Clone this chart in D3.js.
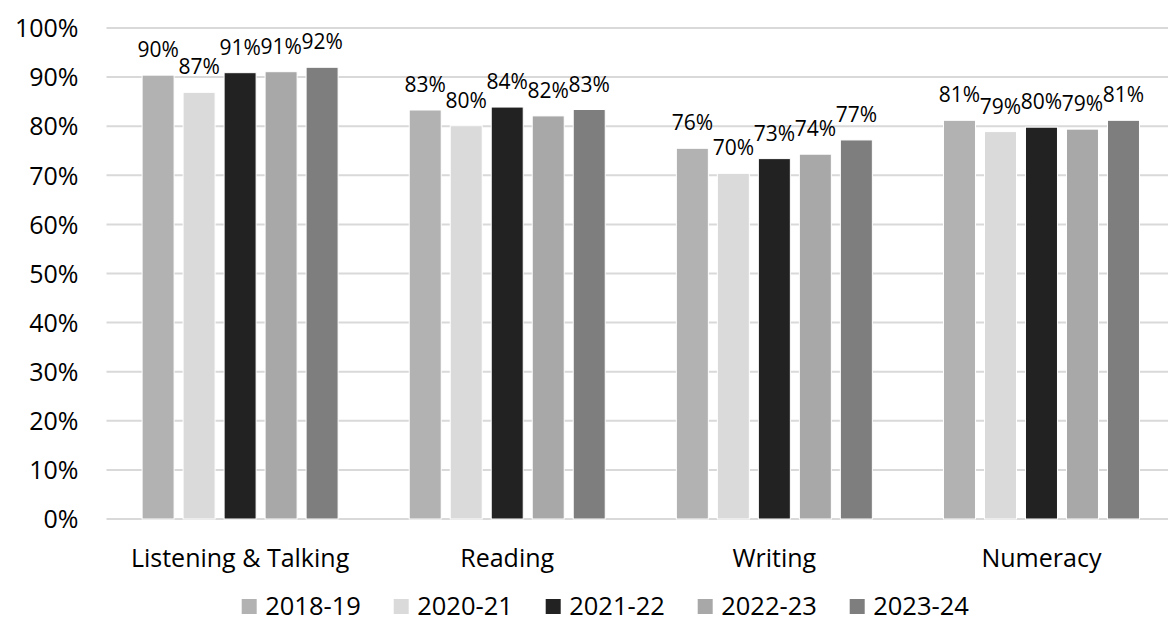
<!DOCTYPE html>
<html><head><meta charset="utf-8">
<script src="https://cdn.jsdelivr.net/npm/d3@7"></script>
<style>html,body{margin:0;padding:0;background:#fff;}svg{display:block;font-family:"Open Sans",sans-serif;}</style>
</head><body>
<svg id="chart" width="1168" height="626"></svg>
<script>
const categories = ["Listening & Talking", "Reading", "Writing", "Numeracy"];
const seriesNames = ["2018-19", "2020-21", "2021-22", "2022-23", "2023-24"];
const s2018_19 = [0.904, 0.833, 0.755, 0.812];
const s2020_21 = [0.869, 0.801, 0.704, 0.789];
const s2021_22 = [0.909, 0.839, 0.734, 0.798];
const s2022_23 = [0.911, 0.821, 0.743, 0.794];
const s2023_24 = [0.920, 0.834, 0.772, 0.812];
const seriesValues = [s2018_19, s2020_21, s2021_22, s2022_23, s2023_24];
const seriesColors = ["#b2b2b2", "#dadada", "#222222", "#a8a8a8", "#7e7e7e"];
const yTicks = [0, 0.1, 0.2, 0.3, 0.4, 0.5, 0.6, 0.7, 0.8, 0.9, 1.0];

const svg = d3.select("#chart");
const plotLeft = 106.5, plotRight = 1175, plotTop = 28, plotBottom = 519;

const y = d3.scaleLinear().domain([0, 1]).range([plotBottom, plotTop]);
const x0 = d3.scaleBand().domain(categories).range([plotLeft, plotRight]).padding(0);
const x1 = d3.scaleBand().domain(seriesNames).range([35.6, 231.6]).paddingInner(9/41).paddingOuter(0);

// gridlines
svg.append("g").selectAll("line").data(yTicks).join("line")
  .attr("x1", plotLeft).attr("x2", 1168)
  .attr("y1", d => y(d)).attr("y2", d => y(d))
  .attr("stroke", "#d9d9d9").attr("stroke-width", 2);

// y axis labels
const yAxis = d3.axisLeft(y).tickValues(yTicks).tickFormat(d3.format(".0%")).tickSize(0).tickPadding(0);
const yg = svg.append("g").attr("transform", `translate(${78.5},0)`).call(yAxis);
yg.select(".domain").remove();
yg.selectAll("text").attr("font-size", 25).attr("fill", "#000").attr("font-family", "Open Sans").attr("dy", "0.35em");

// bars
const groups = svg.append("g").selectAll("g").data(categories).join("g")
  .attr("transform", d => `translate(${x0(d)},0)`);
groups.each(function(cat, ci) {
  const g = d3.select(this);
  const data = seriesNames.map((s, si) => ({s, si, v: seriesValues[si][ci]}));
  g.selectAll("rect").data(data).join("rect")
    .attr("x", d => x1(d.s)).attr("width", x1.bandwidth())
    .attr("y", d => y(d.v)).attr("height", d => y(0) - y(d.v))
    .attr("fill", d => seriesColors[d.si])
    .attr("stroke", "#fff").attr("stroke-width", 1);
  g.selectAll("text").data(data).join("text")
    .attr("x", d => x1(d.s) + x1.bandwidth()/2)
    .attr("y", d => y(d.v) - 18)
    .attr("text-anchor", "middle").attr("font-size", 21).attr("fill", "#000")
    .text(d => d3.format(".0%")(d.v));
});

// x axis labels
const xAxis = d3.axisBottom(x0).tickSize(0).tickPadding(0);
const xg = svg.append("g").attr("transform", `translate(0,${567})`).call(xAxis);
xg.select(".domain").remove();
xg.selectAll("text").attr("font-size", 25).attr("fill", "#000").attr("font-family", "Open Sans").attr("dy", "0");

// legend
const legendX = d3.scalePoint().domain(seriesNames).range([241.7, 849.7]);
const lg = svg.append("g").selectAll("g").data(seriesNames).join("g")
  .attr("transform", d => `translate(${legendX(d)},${615})`);
lg.append("rect").attr("x", 0).attr("y", -16).attr("width", 15).attr("height", 15)
  .attr("fill", (d, i) => seriesColors[i]);
lg.append("text").attr("x", 23.5).attr("y", 0)
  .attr("font-size", 25.5).attr("fill", "#000").text(d => d);
</script>
</body></html>
